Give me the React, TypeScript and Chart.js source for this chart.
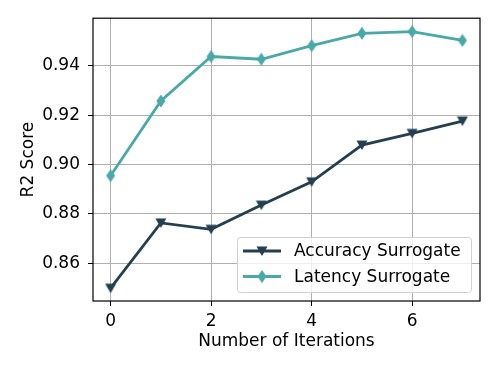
import React, { useEffect, useRef } from "react";
import { Chart, registerables } from "chart.js";

Chart.register(...registerables);

const iterations = [0, 1, 2, 3, 4, 5, 6, 7];
const accuracySurrogate = [0.850, 0.8764, 0.8738, 0.8836, 0.8930, 0.9079, 0.9126, 0.9176];
const latencySurrogate = [0.8955, 0.9257, 0.9437, 0.9426, 0.9481, 0.9531, 0.9538, 0.9502];
const seriesLabels = ["Accuracy Surrogate", "Latency Surrogate"];
const xTicks = [0, 2, 4, 6];
const yTicks = [0.86, 0.88, 0.90, 0.92, 0.94];
const xLabel = "Number of Iterations";
const yLabel = "R2 Score";

const DARK = "#253f50";
const TEAL = "#48a9a6";
const FONT = "DejaVu Sans";
const FS = 17;

function makeTriangle(color: string) {
  const c = document.createElement("canvas");
  c.width = 12;
  c.height = 12;
  const g = c.getContext("2d")!;
  g.fillStyle = color;
  g.beginPath();
  g.moveTo(0.5, 1.5);
  g.lineTo(11.5, 1.5);
  g.lineTo(6, 11);
  g.closePath();
  g.fill();
  return c;
}

function makeDiamond(color: string) {
  const c = document.createElement("canvas");
  c.width = 10;
  c.height = 14;
  const g = c.getContext("2d")!;
  g.fillStyle = color;
  g.beginPath();
  g.moveTo(5, 0.5);
  g.lineTo(9.5, 7);
  g.lineTo(5, 13.5);
  g.lineTo(0.5, 7);
  g.closePath();
  g.fill();
  return c;
}

export default function App() {
  const ref = useRef<HTMLCanvasElement | null>(null);

  useEffect(() => {
    document.body.style.margin = "0";
    const tri = makeTriangle(DARK);
    const dia = makeDiamond(TEAL);
    const markers = [tri, dia];
    const colors = [DARK, TEAL];

    const framePlugin = {
      id: "frame",
      afterDatasetsDraw(chart: any) {
        const { ctx, chartArea: a } = chart;
        ctx.save();
        ctx.strokeStyle = "#000";
        ctx.lineWidth = 1.2;
        ctx.strokeRect(a.left, a.top, a.right - a.left, a.bottom - a.top);
        ctx.restore();
      },
      afterDraw(chart: any) {
        const { ctx, chartArea: a } = chart;
        const w = 234;
        const h = 55;
        const x0 = a.right - 9 - w;
        const y0 = a.bottom - 9 - h;
        ctx.save();
        ctx.fillStyle = "rgba(255,255,255,0.8)";
        ctx.strokeStyle = "#d0d0d0";
        ctx.lineWidth = 1;
        ctx.beginPath();
        (ctx as any).roundRect(x0 + 0.5, y0 + 0.5, w, h, 3);
        ctx.fill();
        ctx.stroke();
        ctx.font = `${FS}px "${FONT}"`;
        ctx.textBaseline = "middle";
        chart.data.datasets.forEach((ds: any, i: number) => {
          const cy = y0 + 14 + i * 25.5;
          ctx.strokeStyle = colors[i];
          ctx.lineWidth = 2.8;
          ctx.beginPath();
          ctx.moveTo(x0 + 6, cy);
          ctx.lineTo(x0 + 44, cy);
          ctx.stroke();
          const m = markers[i];
          ctx.drawImage(m, x0 + 25 - m.width / 2, cy - m.height / 2);
          ctx.fillStyle = "#000";
          ctx.fillText(ds.label, x0 + 57, cy + 1);
        });
        ctx.restore();
      },
    };

    const chart = new Chart(ref.current!, {
      type: "line",
      data: {
        datasets: [
          {
            label: seriesLabels[0],
            data: iterations.map((x, i) => ({ x, y: accuracySurrogate[i] })),
            borderColor: DARK,
            backgroundColor: DARK,
            borderWidth: 2.8,
            pointStyle: tri as any,
            pointRadius: 6,
          },
          {
            label: seriesLabels[1],
            data: iterations.map((x, i) => ({ x, y: latencySurrogate[i] })),
            borderColor: TEAL,
            backgroundColor: TEAL,
            borderWidth: 2.8,
            pointStyle: dia as any,
            pointRadius: 6,
          },
        ],
      },
      options: {
        animation: false,
        responsive: false,
        devicePixelRatio: 1,
        layout: { padding: { top: 18, right: 18, left: 18, bottom: 22 } },
        plugins: { legend: { display: false }, tooltip: { enabled: false } },
        scales: {
          x: {
            type: "linear",
            min: -0.35,
            max: 7.35,
            afterBuildTicks: (s: any) => {
              s.ticks = xTicks.map((v) => ({ value: v }));
            },
            afterFit: (s: any) => {
              s.height = 51;
            },
            ticks: {
              color: "#000",
              font: { family: FONT, size: FS },
              padding: 5,
              maxRotation: 0,
              callback: (v: any) => String(v),
            },
            grid: { color: "#b0b0b0", lineWidth: 1, tickLength: 5, tickColor: "#000" },
            border: { display: false },
            title: {
              display: true,
              text: xLabel,
              color: "#000",
              font: { family: FONT, size: FS },
              padding: { top: 0, bottom: 0 },
            },
          },
          y: {
            type: "linear",
            min: 0.8448,
            max: 0.9592,
            afterBuildTicks: (s: any) => {
              s.ticks = yTicks.map((v) => ({ value: v }));
            },
            afterFit: (s: any) => {
              s.width = 75;
            },
            ticks: {
              color: "#000",
              font: { family: FONT, size: FS },
              padding: 8,
              callback: (v: any) => Number(v).toFixed(2),
            },
            grid: { color: "#b0b0b0", lineWidth: 1, tickLength: 5, tickColor: "#000" },
            border: { display: false },
            title: {
              display: true,
              text: yLabel,
              color: "#000",
              font: { family: FONT, size: FS },
              padding: { top: 0, bottom: 0 },
            },
          },
        },
      },
      plugins: [framePlugin],
    });
    return () => chart.destroy();
  }, []);

  return <canvas ref={ref} width={498} height={374} style={{ display: "block" }} />;
}
